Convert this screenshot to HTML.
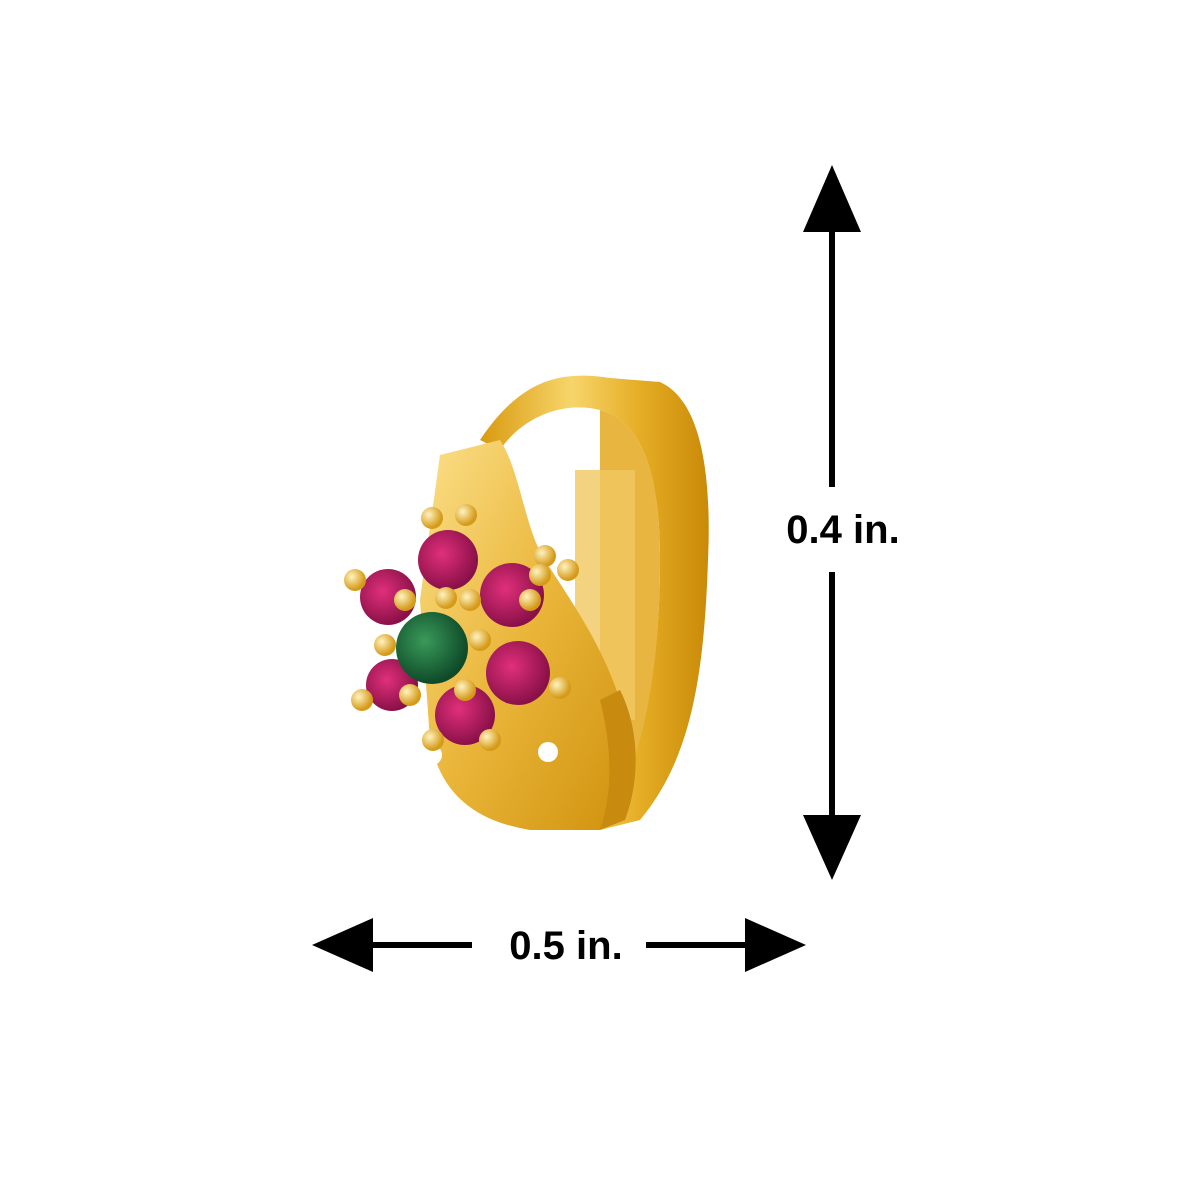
<!DOCTYPE html>
<html><head><meta charset="utf-8"><style>
html,body{margin:0;padding:0;background:#fff;width:1200px;height:1200px;overflow:hidden}
svg{display:block}
text{font-family:"Liberation Sans",sans-serif;font-weight:bold;fill:#000}
</style></head><body>
<svg width="1200" height="1200" viewBox="0 0 1200 1200">
<defs>
<linearGradient id="g1" x1="0" y1="0" x2="1" y2="0">
<stop offset="0" stop-color="#d99a10"/><stop offset="0.4" stop-color="#f7d56a"/><stop offset="0.7" stop-color="#e5ad25"/><stop offset="1" stop-color="#c98a08"/></linearGradient>
<linearGradient id="g2" x1="0" y1="0" x2="1" y2="1">
<stop offset="0" stop-color="#fbe08a"/><stop offset="0.5" stop-color="#eab63a"/><stop offset="1" stop-color="#d0920e"/></linearGradient>
<radialGradient id="pink" cx="0.4" cy="0.4" r="0.6"><stop offset="0" stop-color="#e0307a"/><stop offset="1" stop-color="#8a1048"/></radialGradient>
<radialGradient id="green" cx="0.4" cy="0.4" r="0.6"><stop offset="0" stop-color="#3a9a5a"/><stop offset="1" stop-color="#0e4a28"/></radialGradient>
<radialGradient id="prong" cx="0.35" cy="0.35" r="0.6"><stop offset="0" stop-color="#fff3c0"/><stop offset="1" stop-color="#d59a18"/></radialGradient>
</defs>
<!-- back hoop -->
<path d="M480 440 C520 380 560 370 610 378 L660 382 C700 400 712 470 708 560 C704 680 690 760 640 820 L600 830 C640 760 660 680 660 560 C660 470 640 420 600 410 C560 400 520 420 500 450 Z" fill="url(#g1)"/>
<path d="M600 410 C640 420 660 470 660 560 C660 680 640 760 610 820 L600 720 L600 470 Z" fill="#e8b640"/>
<rect x="575" y="470" width="60" height="250" fill="#f0c860" opacity="0.8"/>
<!-- front plate -->
<path d="M440 455 L500 440 C520 470 525 530 545 560 C570 600 600 640 620 700 C630 760 620 810 600 830 L530 830 C470 820 440 790 430 740 L420 600 Z" fill="url(#g2)"/>
<path d="M600 700 C615 760 610 800 600 830 L625 820 C640 780 640 730 620 690 Z" fill="#c98a10"/>
<circle cx="432" cy="755" r="10" fill="#fff"/><circle cx="548" cy="752" r="10" fill="#fff"/>
<!-- flower -->
<g>
<circle cx="448" cy="560" r="30" fill="url(#pink)"/>
<circle cx="512" cy="595" r="32" fill="url(#pink)"/>
<circle cx="518" cy="673" r="32" fill="url(#pink)"/>
<circle cx="465" cy="715" r="30" fill="url(#pink)"/>
<circle cx="392" cy="685" r="26" fill="url(#pink)"/>
<circle cx="388" cy="597" r="28" fill="url(#pink)"/>
<circle cx="432" cy="648" r="36" fill="url(#green)"/>
<g fill="url(#prong)">
<circle cx="432" cy="518" r="11"/><circle cx="466" cy="515" r="11"/><circle cx="545" cy="556" r="11"/><circle cx="568" cy="570" r="11"/>
<circle cx="540" cy="575" r="11"/><circle cx="560" cy="688" r="11"/><circle cx="490" cy="740" r="11"/><circle cx="433" cy="740" r="11"/>
<circle cx="362" cy="700" r="11"/><circle cx="355" cy="580" r="11"/><circle cx="405" cy="600" r="11"/><circle cx="446" cy="598" r="11"/>
<circle cx="470" cy="600" r="11"/><circle cx="480" cy="640" r="11"/><circle cx="465" cy="690" r="11"/><circle cx="410" cy="695" r="11"/>
<circle cx="385" cy="645" r="11"/><circle cx="530" cy="600" r="11"/></g>
</g>
<!-- vertical arrow -->
<rect x="829" y="225" width="6" height="262" fill="#000"/>
<rect x="829" y="572" width="6" height="250" fill="#000"/>
<polygon points="832,165 803,232 861,232" fill="#000"/>
<polygon points="832,880 803,815 861,815" fill="#000"/>
<text x="843" y="543" font-size="40" text-anchor="middle">0.4 in.</text>
<!-- horizontal arrow -->
<rect x="365" y="942" width="107" height="6" fill="#000"/>
<rect x="646" y="942" width="100" height="6" fill="#000"/>
<polygon points="312,945 373,918 373,972" fill="#000"/>
<polygon points="806,945 745,918 745,972" fill="#000"/>
<text x="566" y="959" font-size="40" text-anchor="middle">0.5 in.</text>
</svg>
</body></html>
